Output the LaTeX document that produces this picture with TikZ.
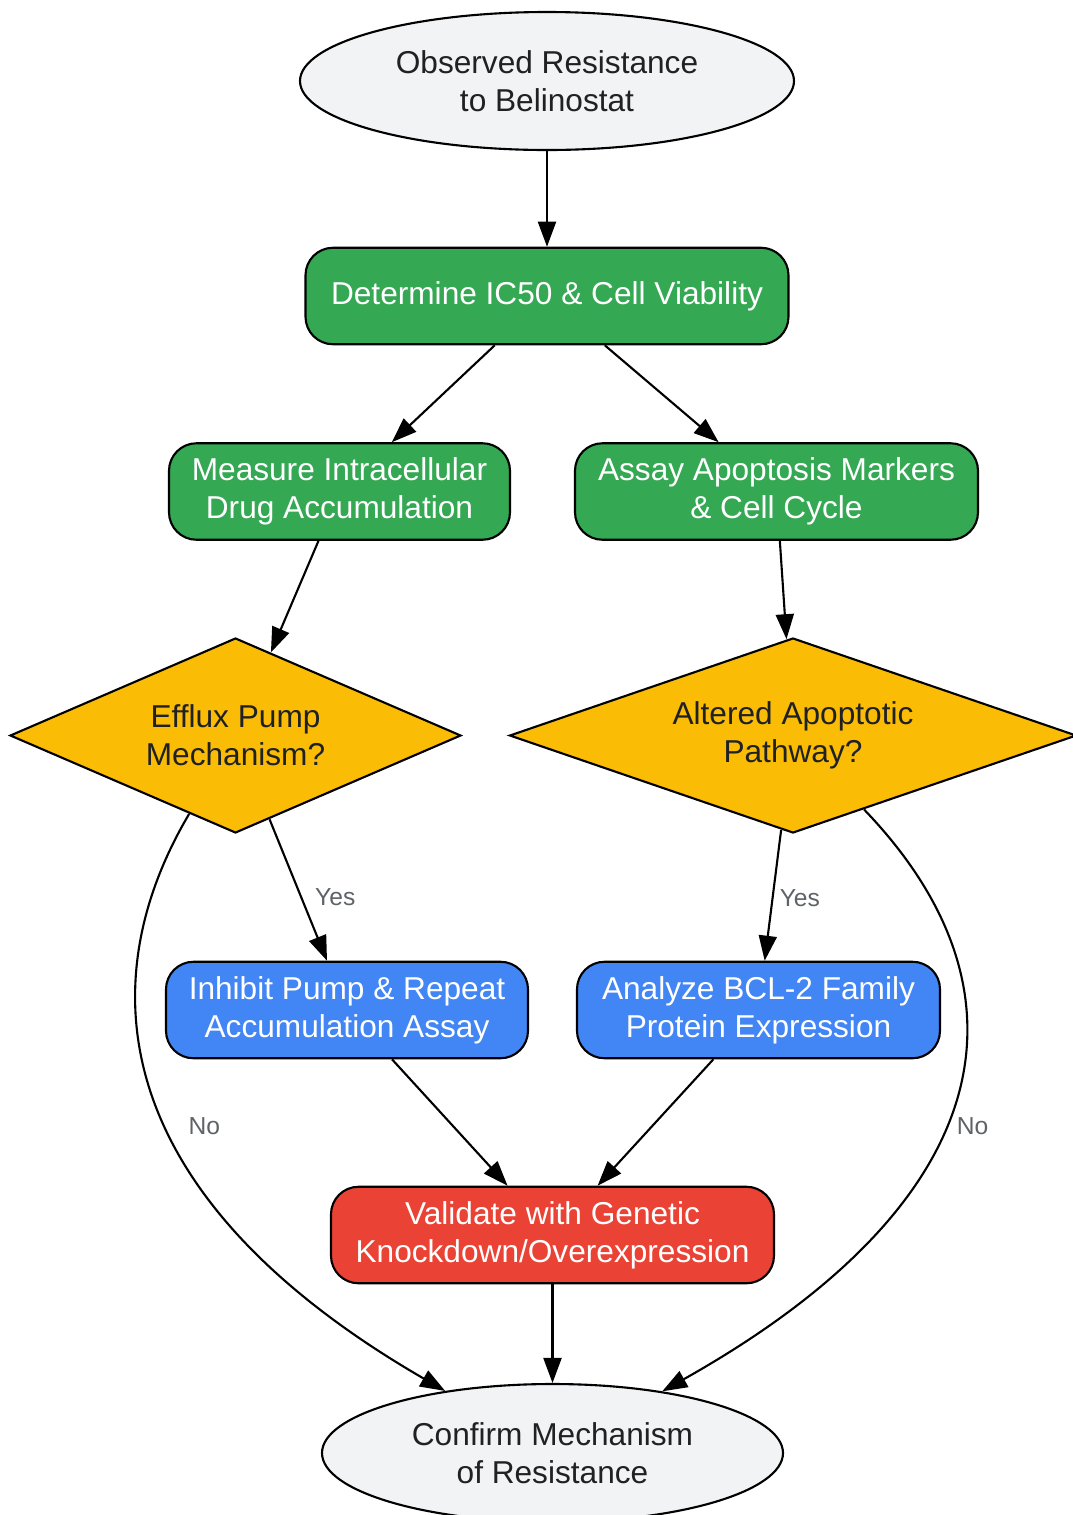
\documentclass[tikz,border=0pt]{standalone}
\usepackage{fontspec}
\setmainfont{Liberation Sans}
\usepackage{xcolor}
\usetikzlibrary{shapes.geometric,arrows.meta}

\definecolor{stepgreen}{HTML}{34A853}
\definecolor{checkyellow}{HTML}{FABC05}
\definecolor{assayblue}{HTML}{4285F4}
\definecolor{validred}{HTML}{EA4335}
\definecolor{termgray}{HTML}{F1F3F4}
\definecolor{darktext}{HTML}{202124}
\definecolor{labelgray}{HTML}{5F6368}

\begin{document}
\begin{tikzpicture}[
    terminal/.style={ellipse, draw=black, line width=1.2pt, fill=termgray, text=darktext, minimum width=9.88cm, minimum height=2.76cm, align=center, font=\fontsize{18}{21.6}\selectfont},
    stepbox/.style={rectangle, draw=black, line width=1.2pt, rounded corners=0.55cm, text=white, minimum height=1.93cm, align=center, font=\fontsize{18}{21.6}\selectfont},
    decision/.style={diamond, draw=black, line width=1.2pt, fill=checkyellow, text=darktext, inner sep=0pt, minimum height=3.9cm, align=center, font=\fontsize{18}{21.6}\selectfont},
    arrow/.style={line width=1.2pt, -{Triangle[length=0.5cm, width=0.36cm]}},
    edgelabel/.style={text=labelgray, font=\fontsize{14}{16}\selectfont}
]
\useasboundingbox (0,0) rectangle (21.46,-30.30);

% Start and end
\node [terminal] (observed) at (10.94,-1.62) {Observed Resistance\\to Belinostat};
\node [terminal, minimum width=9.22cm] (confirm) at (11.05,-29.06) {Confirm Mechanism\\of Resistance};

% Experimental steps
\node [stepbox, fill=stepgreen, minimum width=9.66cm] (ic50) at (10.94,-5.92) {Determine IC50 \& Cell Viability};
\node [stepbox, fill=stepgreen, minimum width=6.82cm] (accum) at (6.79,-9.83) {Measure Intracellular\\Drug Accumulation};
\node [stepbox, fill=stepgreen, minimum width=8.06cm] (apop) at (15.53,-9.83) {Assay Apoptosis Markers\\\& Cell Cycle};

% Decisions
\node [decision, aspect=2.31, minimum width=9.02cm] (efflux) at (4.71,-14.71) {Efflux Pump\\Mechanism?};
\node [decision, aspect=2.91, minimum width=11.34cm] (pathway) at (15.86,-14.71) {Altered Apoptotic\\Pathway?};

% Follow-up assays
\node [stepbox, fill=assayblue, minimum width=7.24cm] (inhibit) at (6.94,-20.20) {Inhibit Pump \& Repeat\\Accumulation Assay};
\node [stepbox, fill=assayblue, minimum width=7.26cm] (bcl) at (15.17,-20.20) {Analyze BCL-2 Family\\Protein Expression};
\node [stepbox, fill=validred, minimum width=8.86cm] (validate) at (11.05,-24.70) {Validate with Genetic\\Knockdown/Overexpression};

% Connectors
\draw [arrow] (observed) -- (ic50);
\draw [arrow] (ic50) -- (accum);
\draw [arrow] (ic50) -- (apop);
\draw [arrow] (accum) -- (efflux);
\draw [arrow] (apop) -- (pathway);
\draw [arrow] (efflux) -- (inhibit) node[midway, right, xshift=0.2cm, yshift=-0.15cm, edgelabel] {Yes};
\draw [arrow] (pathway) -- (bcl) node[midway, right, yshift=-0.05cm, edgelabel] {Yes};
\draw [arrow] (efflux) .. controls (1.70,-19.80) and (2.30,-24.00) .. (confirm) node[pos=0.55, anchor=west, xshift=0.3cm, edgelabel] {No};
\draw [arrow] (pathway) .. controls (20.75,-19.80) and (20.05,-24.00) .. (confirm) node[pos=0.55, anchor=west, xshift=0.1cm, edgelabel] {No};
\draw [arrow] (inhibit) -- (validate);
\draw [arrow] (bcl) -- (validate);
\draw [arrow] (validate) -- (confirm);

\end{tikzpicture}
\end{document}
